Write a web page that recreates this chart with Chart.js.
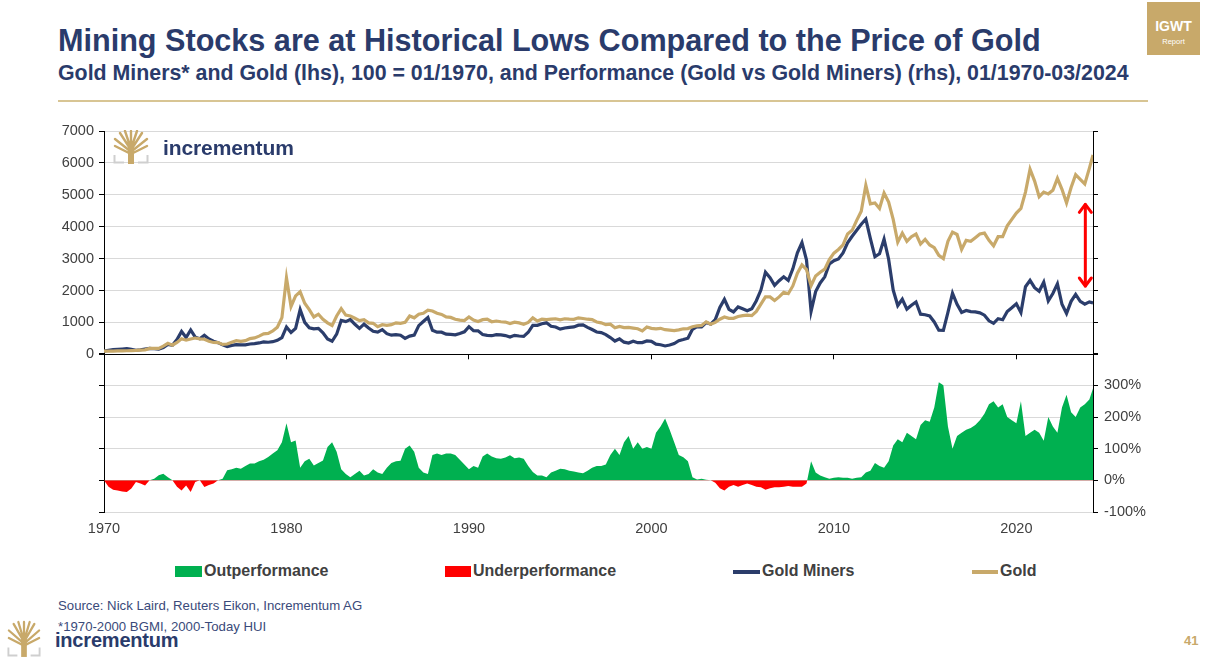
<!DOCTYPE html>
<html><head><meta charset="utf-8">
<script src="https://cdn.jsdelivr.net/npm/chart.js@4.4.1/dist/chart.umd.min.js"></script>
<style>
html,body{margin:0;padding:0;background:#fff;}
body{width:1208px;height:661px;overflow:hidden;position:relative;font-family:"Liberation Sans",Arial,sans-serif;}
.abs{position:absolute;white-space:nowrap;}
#title{left:58px;top:22px;font-size:30.6px;line-height:36px;font-weight:bold;color:#2a3b6b;}
#subtitle{left:58px;top:61px;font-size:21.35px;line-height:24px;font-weight:bold;color:#2a3b6b;}
#rule{left:58px;top:100px;width:1090px;height:2px;background:#d8c594;}
#igwt{left:1147px;top:2px;width:53px;height:53px;background:#c8a96a;color:#fff;text-align:center;}
#igwt .a{position:absolute;left:0;width:53px;top:16px;font-size:14px;font-weight:bold;line-height:16px;}
#igwt .b{position:absolute;left:0;width:53px;top:35px;font-size:7.5px;line-height:9px;}
canvas{position:absolute;left:0;}
#c1{top:115px;}
#c2{top:339px;}
.leg{top:562px;font-size:16px;line-height:18px;font-weight:bold;color:#404040;}
.sw{position:absolute;}
.foot{left:58px;font-size:13.2px;line-height:15px;color:#3a4a7a;}
#logoTxt{left:163px;top:136px;font-size:21px;line-height:24px;font-weight:bold;color:#2a3b6b;letter-spacing:-0.1px;}
#logoTxt2{left:55px;top:628px;font-size:20px;line-height:24px;font-weight:bold;color:#2a3b6b;letter-spacing:-0.2px;}
#pg{left:1184px;top:633px;font-size:13px;line-height:16px;font-weight:bold;color:#c8a96a;}
</style></head><body>

<div class="abs" id="title">Mining Stocks are at Historical Lows Compared to the Price of Gold</div>
<div class="abs" id="subtitle">Gold Miners* and Gold (lhs), 100 = 01/1970, and Performance (Gold vs Gold Miners) (rhs), 01/1970-03/2024</div>
<div class="abs" id="rule"></div>
<div class="abs" id="igwt"><div class="a">IGWT</div><div class="b">Report</div></div>

<canvas id="c1" width="1208" height="253"></canvas>
<canvas id="c2" width="1208" height="203"></canvas>

<svg class="abs" style="left:113px;top:130px" width="36" height="34" viewBox="0 0 36 34">
  <g stroke="#c8a96a" stroke-width="2.4" fill="none" stroke-linecap="round">
    <path d="M18 20 L7 3 M18 20 L29 3 M18 19 L12 1 M18 19 L24 1 M18 18 L18 1 M17 21 L2 9 M19 21 L34 9 M16 23 L2 16 M20 23 L34 16"/>
  </g>
  <rect x="15" y="17" width="6" height="17" fill="#c8a96a"/>
  <path d="M1.5 25 V32.5 H11 M34.5 25 V32.5 H25" stroke="#cfcfcf" stroke-width="2" fill="none"/>
</svg>
<div class="abs" id="logoTxt">incrementum</div>

<div class="abs leg" style="left:175px;"><span class="sw" style="left:0;top:4px;width:27px;height:11px;background:#00b050;"></span><span style="position:absolute;left:29px;">Outperformance</span></div>
<div class="abs leg" style="left:445px;"><span class="sw" style="left:0;top:4px;width:26px;height:11px;background:#ff0000;"></span><span style="position:absolute;left:28px;">Underperformance</span></div>
<div class="abs leg" style="left:733px;"><span class="sw" style="left:0;top:8px;width:27px;height:4px;background:#2b3d6b;"></span><span style="position:absolute;left:29px;">Gold Miners</span></div>
<div class="abs leg" style="left:972px;"><span class="sw" style="left:0;top:8px;width:26px;height:4px;background:#c8a96a;"></span><span style="position:absolute;left:28px;">Gold</span></div>

<div class="abs foot" style="top:598px;">Source: Nick Laird, Reuters Eikon, Incrementum AG</div>
<div class="abs foot" style="top:619px;">*1970-2000 BGMI, 2000-Today HUI</div>

<svg class="abs" style="left:7px;top:620px" width="34" height="38" viewBox="0 0 36 38">
  <g stroke="#c8a96a" stroke-width="2.4" fill="none" stroke-linecap="round">
    <path d="M18 22 L7 3 M18 22 L29 3 M18 21 L12 1 M18 21 L24 1 M18 20 L18 1 M17 23 L2 10 M19 23 L34 10 M16 25 L2 18 M20 25 L34 18"/>
  </g>
  <rect x="15" y="19" width="6" height="19" fill="#c8a96a"/>
  <path d="M1.5 28 V36.5 H11 M34.5 28 V36.5 H25" stroke="#cfcfcf" stroke-width="2" fill="none"/>
</svg>
<div class="abs" id="logoTxt2">incrementum</div>
<div class="abs" id="pg">41</div>

<script>
// ---- Data (quarterly readings, 1970 Q1 .. 2024 Q1, last point Mar 2024) ----
const startYear = 1970;
const stepYears = 0.25;
const lastDate = 2024.2;

// Gold, index 100 = 01/1970
const gold = [
  100, 102, 101, 107,   108, 111, 117, 121,   129, 140, 186, 183,   186, 257, 343, 286,
  371, 486, 443, 480,   510, 486, 471, 409,   371, 366, 310, 323,   380, 426, 403, 429,
  494, 514, 570, 643,   657, 730, 850, 1150,  2400, 1500, 1830, 1960, 1600, 1400, 1170, 1257,
  1100, 986, 900, 1200, 1430, 1230, 1200, 1130, 1057, 1086, 986, 971, 866, 929, 906, 929,
  986, 971, 1000, 1200, 1143, 1257, 1286, 1386, 1357, 1286, 1249, 1171, 1157, 1100, 1071, 1057,
  1171, 1071, 1029, 1086, 1100, 1020, 1043, 1020, 1011, 966, 1009, 986, 943, 1000, 1143, 1043,
  1100, 1086, 1100, 1114, 1080, 1114, 1100, 1097, 1143, 1123, 1100, 1086, 1014, 986, 929, 943,
  829, 871, 837, 843,   820, 800, 734, 857,   814, 800, 814, 771,   757, 743, 766, 800,
  806, 863, 894, 906,   1017, 943, 1000, 1100, 1171, 1129, 1129, 1186, 1214, 1229, 1214, 1343,
  1571, 1800, 1800, 1686, 1800, 1943, 1900, 2143, 2543, 2800, 2657, 2150, 2457, 2571, 2671, 2971,
  3171, 3286, 3429, 3771, 3886, 4200, 4486, 5300, 4714, 4743, 4571, 5057, 4771, 4229, 3514, 3800,
  3543, 3686, 3771, 3457, 3600, 3429, 3343, 3100, 3000, 3543, 3829, 3757, 3286, 3571, 3543, 3657,
  3771, 3800, 3571, 3400, 3686, 3686, 4029, 4229, 4429, 4571, 5086, 5800, 5429, 4943, 5086, 5029,
  5143, 5514, 5171, 4743, 5229, 5629, 5486, 5343, 5829, 6250
];

// Gold Miners (BGMI until 2000, HUI afterwards), index 100 = 01/1970
const miners = [
  100, 128, 144, 157,   166, 176, 158, 127,   143, 167, 186, 174,   160, 212, 312, 286,
  464, 715, 527, 762,   537, 486, 596, 481,   412, 366, 295, 245,   281, 304, 294, 296,
  323, 336, 356, 390,   378, 395, 436, 523,   857, 682, 810, 1400,  1000, 833, 796, 811,
  675, 481, 409, 632,   1059, 1025, 1090, 942, 813, 944, 822, 719,  693, 774, 647, 599,
  616, 599, 500, 571,   602, 898, 1029, 1155, 754, 695, 694, 633,  625, 611, 649, 705,
  867, 739, 735, 621,   595, 583, 614, 607,   588, 540, 594, 573,   561, 690, 907, 907,
  957, 987, 880, 857,   788, 825, 846, 857,   914, 920, 846, 776,   699, 680, 619, 524,
  415, 484, 380, 351,   410, 364, 367, 418,   407, 320, 301, 261,   291, 338, 426, 462,
  504, 785, 868, 863,   997, 943, 1087, 1467, 1722, 1411, 1328, 1483, 1428, 1366, 1428, 1679,
  2014, 2571, 2400, 2162, 2308, 2429, 2317, 2679, 3179, 3500, 2952, 1344, 1966, 2236, 2428, 2830,
  2936, 2987, 3175, 3492, 3701, 3889, 4078, 4240, 3626, 3060, 3152, 3612, 2982, 2014, 1528, 1727,
  1417, 1536, 1640, 1257, 1241, 1203, 1013, 756, 750, 1312, 1915, 1565, 1314, 1373, 1337, 1330,
  1300, 1226, 1050, 971, 1117, 1084, 1343, 1458, 1582, 1306, 2119, 2320, 2088, 1977, 2260, 1676,
  1905, 2206, 1567, 1282, 1660, 1876, 1662, 1571, 1642, 1612
];

// Performance, Gold vs Gold Miners, in %
const performance = [
  0, -20, -30, -32,   -35, -37, -26, -5,   -10, -16, 0, 5,    16, 21, 10, 0,
  -20, -32, -16, -37, -5, 0, -21, -15,   -10, 0, 5, 32,     35, 40, 37, 45,
  53, 53, 60, 65,     74, 85, 95, 120,    180, 120, 126, 40,  60, 68, 47, 55,
  63, 105, 120, 90,   35, 20, 10, 20,     30, 15, 20, 35,     25, 20, 40, 55,
  60, 62, 100, 110,   90, 40, 25, 20,     80, 85, 80, 85,     85, 80, 65, 50,
  35, 45, 40, 75,     85, 75, 70, 68,     72, 79, 70, 72,     68, 45, 26, 15,
  15, 10, 25, 30,     37, 35, 30, 28,     25, 22, 30, 40,     45, 45, 50, 80,
  100, 80, 120, 140,  100, 120, 100, 105, 100, 150, 170, 195, 160, 120, 80, 73,
  60, 10, 3, 5,       2, 0, -8, -25,      -32, -20, -15, -20, -15, -10, -15, -20,
  -22, -30, -25, -22, -22, -20, -18, -20, -20, -20, -10, 60,  25, 15, 10, 5,
  8, 10, 8, 8,        5, 8, 10, 25,       30, 55, 45, 40,     60, 110, 130, 120,
  150, 140, 130, 175, 190, 185, 230, 310, 300, 170, 100, 140, 150, 160, 165, 175,
  190, 210, 240, 250, 230, 240, 200, 190, 180, 250, 140, 150, 160, 150, 125, 200,
  170, 150, 230, 270, 215, 200, 230, 240, 255, 290
];

// Axis ranges / ticks
const xMin = 1970, xMax = 2024.2, xStep = 10;
const leftMin = 0, leftMax = 7000, leftStep = 1000;
const perfMin = -100, perfMax = 400, perfStep = 100;

// Annotation: red double arrow (data coordinates)
const gapArrow = { x: 2023.78, from: 4730, to: 2110 };

// ---- Build ----
const dates = gold.map((_, i) => i === gold.length - 1 ? lastDate : startYear + i * stepYears);
const pts = arr => arr.map((v, i) => ({ x: dates[i], y: v }));

const FONT = { family: "'Liberation Sans', Arial, sans-serif", size: 14.5 };
const TXT = '#404040';
const GRID = '#d9d9d9';

const arrowPlugin = {
  id: 'gapArrow',
  afterDatasetsDraw(chart) {
    const { ctx, scales } = chart;
    const px = scales.x.getPixelForValue(gapArrow.x);
    const y1 = scales.y.getPixelForValue(gapArrow.from);
    const y2 = scales.y.getPixelForValue(gapArrow.to);
    ctx.save();
    ctx.strokeStyle = '#ff0000';
    ctx.lineWidth = 3;
    ctx.lineCap = 'round';
    ctx.lineJoin = 'round';
    ctx.beginPath(); ctx.moveTo(px, y1 + 1); ctx.lineTo(px, y2 - 1); ctx.stroke();
    ctx.beginPath(); ctx.moveTo(px - 6, y1 + 9); ctx.lineTo(px, y1 + 1); ctx.lineTo(px + 6, y1 + 9); ctx.stroke();
    ctx.beginPath(); ctx.moveTo(px - 6, y2 - 9); ctx.lineTo(px, y2 - 1); ctx.lineTo(px + 6, y2 - 9); ctx.stroke();
    ctx.restore();
  }
};

new Chart(document.getElementById('c1'), {
  type: 'line',
  data: {
    datasets: [
      { label: 'Gold Miners', data: pts(miners), borderColor: '#2b3d6b', borderWidth: 3.2, pointRadius: 0, tension: 0, order: 2 },
      { label: 'Gold', data: pts(gold), borderColor: '#c8a96a', borderWidth: 3.2, pointRadius: 0, tension: 0, order: 1 }
    ]
  },
  options: {
    responsive: false, animation: false, devicePixelRatio: 1,
    layout: { padding: { top: 16, left: 0, right: 0, bottom: 0 } },
    plugins: { legend: { display: false }, tooltip: { enabled: false } },
    scales: {
      x: {
        type: 'linear', min: xMin, max: xMax,
        ticks: { display: false, stepSize: xStep, includeBounds: false },
        grid: { drawOnChartArea: false, drawTicks: true, tickLength: 5, tickColor: '#000' },
        border: { color: '#000', width: 1 },
        afterFit: s => { s.height = 7; }
      },
      y: {
        position: 'left', min: leftMin, max: leftMax,
        ticks: { stepSize: leftStep, color: TXT, font: FONT, padding: 5, callback: v => String(v) },
        grid: { color: GRID, lineWidth: 1, tickLength: 5, tickColor: '#000' },
        border: { color: '#000', width: 1 },
        afterFit: s => { s.width = 104; }
      },
      yR: {
        position: 'right', min: leftMin, max: leftMax,
        ticks: { display: false, stepSize: leftStep },
        grid: { drawOnChartArea: false, tickLength: 5, tickColor: '#000' },
        border: { color: '#000', width: 1 },
        afterFit: s => { s.width = 115; }
      }
    }
  },
  plugins: [arrowPlugin]
});

new Chart(document.getElementById('c2'), {
  type: 'line',
  data: {
    datasets: [
      {
        label: 'Performance', data: pts(performance), borderWidth: 0, borderColor: 'rgba(0,0,0,0)',
        pointRadius: 0, tension: 0,
        fill: { target: 'origin', above: '#00b050', below: '#ff0000' },
        yAxisID: 'yR'
      }
    ]
  },
  options: {
    responsive: false, animation: false, devicePixelRatio: 1,
    layout: { padding: { top: 10, left: 0, right: 0, bottom: 0 } },
    plugins: { legend: { display: false }, tooltip: { enabled: false } },
    scales: {
      x: {
        type: 'linear', min: xMin, max: xMax,
        ticks: { stepSize: xStep, includeBounds: false, color: TXT, font: FONT, padding: 8, maxRotation: 0, callback: v => String(v) },
        grid: { drawOnChartArea: false, drawTicks: false },
        border: { color: GRID, width: 1 },
        afterFit: s => { s.height = 30; }
      },
      y: {
        position: 'left', min: perfMin, max: perfMax,
        ticks: { display: false, stepSize: perfStep },
        grid: { color: c => c.tick && c.tick.value === perfMax ? 'rgba(0,0,0,0)' : GRID, tickLength: 5, tickColor: '#000' },
        border: { color: '#000', width: 1 },
        afterFit: s => { s.width = 104; }
      },
      yR: {
        position: 'right', min: perfMin, max: perfMax,
        ticks: { stepSize: perfStep, color: TXT, font: FONT, padding: 6, callback: v => v === perfMax ? '' : v + '%' },
        grid: { drawOnChartArea: false, tickLength: 5, tickColor: '#000' },
        border: { color: '#000', width: 1 },
        afterFit: s => { s.width = 115; }
      }
    }
  }
});
</script>
</body></html>
